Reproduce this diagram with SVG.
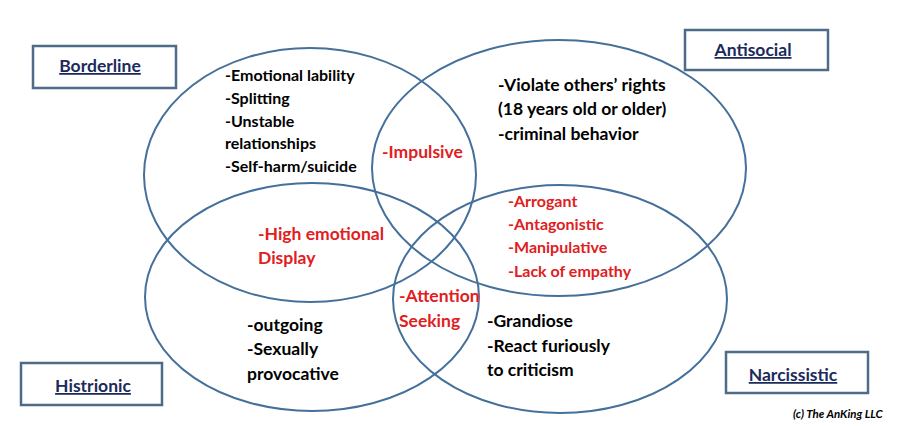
<svg xmlns="http://www.w3.org/2000/svg" width="898" height="426" viewBox="0 0 898 426">
<style>
.set{fill:none;stroke:#44709A;stroke-width:2}
.box{fill:#fff;stroke:#4E6B89;stroke-width:2.5}
.lbl{font-family:Lato,"Liberation Sans",sans-serif;font-weight:bold;font-size:17.5px;fill:#1B2A5C;text-decoration:underline;text-anchor:middle}
.t{font-family:Lato,"Liberation Sans",sans-serif;font-weight:bold;font-size:17.5px;fill:#000}
.ts{font-size:16px}
.r{font-family:Lato,"Liberation Sans",sans-serif;font-weight:bold;font-size:17.5px;fill:#E0201E}
.rs{font-size:16px}
.c{font-family:Lato,"Liberation Sans",sans-serif;font-weight:bold;font-style:italic;font-size:11.5px;fill:#000}
</style>
<rect width="898" height="426" fill="#fff"/>
<g id="sets">
<ellipse id="set-borderline" class="set" cx="310" cy="175" rx="166" ry="127"/>
<ellipse id="set-antisocial" class="set" cx="559" cy="168" rx="187" ry="128"/>
<ellipse id="set-histrionic" class="set" cx="312" cy="297" rx="167" ry="114"/>
<ellipse id="set-narcissistic" class="set" cx="560" cy="299" rx="167" ry="114"/>
</g>
<g id="connectors"></g>
<g id="borderline">
<rect class="box" x="33" y="46" width="143" height="42"/>
<text class="lbl" x="100" y="72">Borderline</text>
</g>
<g id="antisocial">
<rect class="box" x="685" y="30" width="143" height="40"/>
<text class="lbl" x="753" y="56">Antisocial</text>
</g>
<g id="histrionic">
<rect class="box" x="21" y="363" width="141" height="42"/>
<text class="lbl" x="93" y="392">Histrionic</text>
</g>
<g id="narcissistic">
<rect class="box" x="726" y="352" width="142" height="41"/>
<text class="lbl" x="793" y="381">Narcissistic</text>
</g>
<g id="borderline-traits">
<text class="t ts" x="225" y="81">-Emotional lability</text>
<text class="t ts" x="225" y="104">-Splitting</text>
<text class="t ts" x="225" y="127">-Unstable</text>
<text class="t ts" x="225" y="149">relationships</text>
<text class="t ts" x="225" y="172">-Self-harm/suicide</text>
</g>
<g id="antisocial-traits">
<text class="t" x="498" y="91">-Violate others’ rights</text>
<text class="t" x="498" y="115">(18 years old or older)</text>
<text class="t" x="498" y="140">-criminal behavior</text>
</g>
<g id="impulsive">
<text class="r" x="382" y="158">-Impulsive</text>
</g>
<g id="high-emotional">
<text class="r" x="258" y="240">-High emotional</text>
<text class="r" x="258" y="264">Display</text>
</g>
<g id="narc-antisocial-traits">
<text class="r rs" x="508" y="207">-Arrogant</text>
<text class="r rs" x="508" y="230">-Antagonistic</text>
<text class="r rs" x="508" y="253">-Manipulative</text>
<text class="r rs" x="508" y="277">-Lack of empathy</text>
</g>
<g id="attention">
<text class="r" x="399" y="302">-Attention</text>
<text class="r" x="399" y="327">Seeking</text>
</g>
<g id="histrionic-traits">
<text class="t" x="247" y="331">-outgoing</text>
<text class="t" x="247" y="355">-Sexually</text>
<text class="t" x="247" y="380">provocative</text>
</g>
<g id="narcissistic-traits">
<text class="t" x="487" y="327">-Grandiose</text>
<text class="t" x="487" y="352">-React furiously</text>
<text class="t" x="487" y="376">to criticism</text>
</g>
<text class="c" x="793" y="418">(c) The AnKing LLC</text>
</svg>
